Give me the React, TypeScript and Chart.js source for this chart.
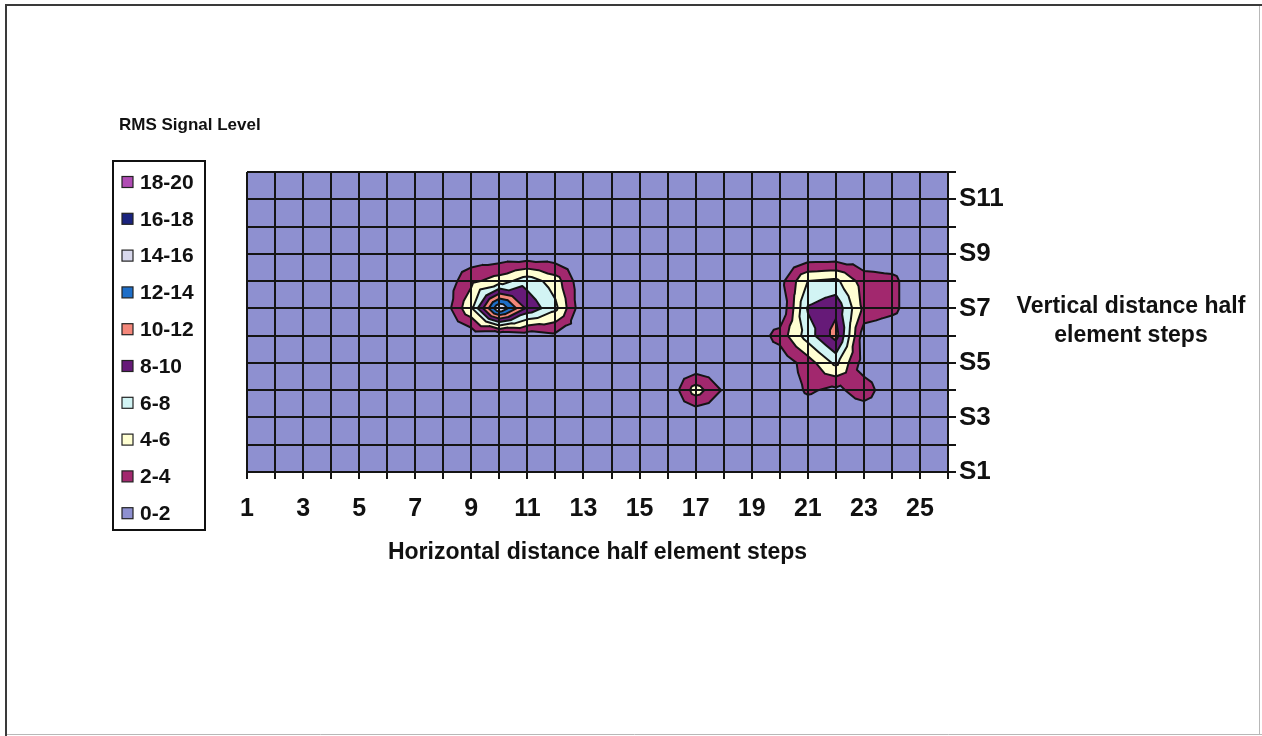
import React, { useEffect, useRef } from 'react';
import { Chart, registerables } from 'chart.js';

Chart.register(...registerables);

// Grid positions (half element steps)
const xValues = [1, 2, 3, 4, 5, 6, 7, 8, 9, 10, 11, 12, 13, 14, 15, 16, 17, 18, 19, 20, 21, 22, 23, 24, 25, 26];
const yValues = [1, 2, 3, 4, 5, 6, 7, 8, 9, 10, 11, 12];
const xTickLabels = ['1', '', '3', '', '5', '', '7', '', '9', '', '11', '', '13', '', '15', '', '17', '', '19', '', '21', '', '23', '', '25', ''];
const yTickLabels = ['S1', '', 'S3', '', 'S5', '', 'S7', '', 'S9', '', 'S11', ''];

// Contour bands
const bandLabels = ['0-2', '2-4', '4-6', '6-8', '8-10', '10-12', '12-14', '14-16', '16-18', '18-20'];
const bandLevels = [0, 2, 4, 6, 8, 10, 12, 14, 16, 18];
const bandColors = ['#8E90D0', '#A2286E', '#FFFFD2', '#D2F4F4', '#661A78', '#F4877A', '#1E6EC8', '#D8D8EC', '#1A237E', '#B04CB4'];

// RMS signal level per series (S1..S12), one value per horizontal step 1..26
const s1 = [0.5, 0.5, 0.5, 0.5, 0.5, 0.5, 0.5, 0.5, 0.5, 0.5, 0.5, 0.5, 0.5, 0.5, 0.5, 0.5, 0.5, 0.5, 0.5, 0.5, 0.5, 0.5, 0.5, 0.5, 0.5, 0.5];
const s2 = [0.5, 0.5, 0.5, 0.5, 0.5, 0.5, 0.5, 0.5, 0.5, 0.5, 0.5, 0.5, 0.5, 0.5, 0.5, 0.5, 0.5, 0.5, 0.5, 0.5, 0.5, 0.5, 0.5, 0.5, 0.5, 0.5];
const s3 = [0.5, 0.5, 0.5, 0.5, 0.5, 0.5, 0.5, 0.5, 0.5, 0.5, 0.5, 0.5, 0.5, 0.5, 0.5, 0.3, 0.0, 0.5, 0.5, 0.5, 0.5, 0.5, 0.5, 0.5, 0.5, 0.5];
const s4 = [0.5, 0.5, 0.5, 0.5, 0.5, 0.5, 0.5, 0.5, 0.5, 0.5, 0.5, 0.5, 0.5, 0.5, 0.5, 0.0, 5.0, 1.7, 0.5, 0.5, 2.3, 1.5, 3.0, 0.5, 0.5, 0.5];
const s5 = [0.5, 0.5, 0.5, 0.5, 0.5, 0.5, 0.5, 0.5, 0.5, 0.5, 0.5, 0.5, 0.5, 0.5, 0.5, 0.5, 0.0, 0.5, 0.5, 0.5, 3.0, 6.5, 1.0, 0.5, 0.5, 0.5];
const s6 = [0.5, 0.5, 0.5, 0.5, 0.5, 0.5, 0.5, 0.5, 0.5, 0.2, 0.8, 1.5, 0.5, 0.5, 0.5, 0.5, 0.5, 0.5, 0.5, 2.8, 7.0, 10.8, 0.8, 0.3, 0.5, 0.5];
const s7 = [0.5, 0.5, 0.5, 0.5, 0.5, 0.5, 0.5, 0.6, 5.7, 15.9, 9.5, 6.5, 0.3, 0.5, 0.5, 0.5, 0.5, 0.5, 0.5, 0.0, 8.2, 9.5, 3.5, 2.6, 0.3, 0.5];
const s8 = [0.5, 0.5, 0.5, 0.5, 0.5, 0.5, 0.5, 0.5, 3.5, 5.0, 7.2, 5.0, 0.3, 0.5, 0.5, 0.5, 0.5, 0.5, 0.5, 1.2, 6.0, 6.5, 3.0, 2.6, 0.3, 0.5];
const s9 = [0.5, 0.5, 0.5, 0.5, 0.5, 0.5, 0.5, 0.5, 0.5, 0.4, 0.2, 0.4, 0.5, 0.5, 0.5, 0.5, 0.5, 0.5, 0.5, 0.5, 0.2, 0.2, 0.3, 0.3, 0.5, 0.5];
const s10 = [0.5, 0.5, 0.5, 0.5, 0.5, 0.5, 0.5, 0.5, 0.5, 0.5, 0.5, 0.5, 0.5, 0.5, 0.5, 0.5, 0.5, 0.5, 0.5, 0.5, 0.5, 0.5, 0.5, 0.5, 0.5, 0.5];
const s11 = [0.5, 0.5, 0.5, 0.5, 0.5, 0.5, 0.5, 0.5, 0.5, 0.5, 0.5, 0.5, 0.5, 0.5, 0.5, 0.5, 0.5, 0.5, 0.5, 0.5, 0.5, 0.5, 0.5, 0.5, 0.5, 0.5];
const s12 = [0.5, 0.5, 0.5, 0.5, 0.5, 0.5, 0.5, 0.5, 0.5, 0.5, 0.5, 0.5, 0.5, 0.5, 0.5, 0.5, 0.5, 0.5, 0.5, 0.5, 0.5, 0.5, 0.5, 0.5, 0.5, 0.5];

const legendTitle = 'RMS Signal Level';
const xTitle = 'Horizontal distance half element steps';
const yTitleLines = ['Vertical distance half', 'element steps'];

const FONT = '"Liberation Sans", Arial, Helvetica, sans-serif';

type P = [number, number, number];

function clipAbove(poly: P[], L: number): P[] {
  const out: P[] = [];
  for (let k = 0; k < poly.length; k++) {
    const a = poly[k];
    const b = poly[(k + 1) % poly.length];
    const ain = a[2] >= L;
    const bin = b[2] >= L;
    if (ain) out.push(a);
    if (ain !== bin) {
      const t = (L - a[2]) / (b[2] - a[2]);
      out.push([a[0] + t * (b[0] - a[0]), a[1] + t * (b[1] - a[1]), L]);
    }
  }
  return out;
}

export default function App() {
  const ref = useRef<HTMLCanvasElement>(null);

  useEffect(() => {
    const canvas = ref.current;
    if (!canvas) return;
    const grid = [s1, s2, s3, s4, s5, s6, s7, s8, s9, s10, s11, s12];

    const contourPlugin = {
      id: 'contour',
      beforeDraw(chart: any) {
        const { ctx, chartArea: a, scales } = chart;
        const xs = scales.x;
        const ys = scales.y;
        ctx.save();
        ctx.fillStyle = '#ffffff';
        ctx.fillRect(0, 0, chart.width, chart.height);
        ctx.beginPath();
        ctx.rect(a.left, a.top, a.right - a.left, a.bottom - a.top);
        ctx.clip();
        ctx.fillStyle = bandColors[0];
        ctx.fillRect(a.left, a.top, a.right - a.left, a.bottom - a.top);

        const tris: P[][] = [];
        for (let j = 0; j < yValues.length - 1; j++) {
          for (let i = 0; i < xValues.length - 1; i++) {
            const x0 = xs.getPixelForValue(xValues[i]);
            const x1 = xs.getPixelForValue(xValues[i + 1]);
            const y0 = ys.getPixelForValue(yValues[j]);
            const y1 = ys.getPixelForValue(yValues[j + 1]);
            const v00 = grid[j][i];
            const v10 = grid[j][i + 1];
            const v11 = grid[j + 1][i + 1];
            const v01 = grid[j + 1][i];
            const c: P = [(x0 + x1) / 2, (y0 + y1) / 2, (v00 + v10 + v11 + v01) / 4];
            const p00: P = [x0, y0, v00];
            const p10: P = [x1, y0, v10];
            const p11: P = [x1, y1, v11];
            const p01: P = [x0, y1, v01];
            tris.push([c, p00, p10], [c, p10, p11], [c, p11, p01], [c, p01, p00]);
          }
        }

        for (let k = 1; k < bandLevels.length; k++) {
          const L = bandLevels[k];
          ctx.beginPath();
          let any = false;
          for (const t of tris) {
            const poly = clipAbove(t, L);
            if (poly.length < 3) continue;
            any = true;
            ctx.moveTo(poly[0][0], poly[0][1]);
            for (let m = 1; m < poly.length; m++) ctx.lineTo(poly[m][0], poly[m][1]);
            ctx.closePath();
          }
          if (any) {
            ctx.fillStyle = bandColors[k];
            ctx.fill();
          }
        }

        ctx.beginPath();
        for (let k = 1; k < bandLevels.length; k++) {
          const L = bandLevels[k];
          for (const t of tris) {
            const pts: number[][] = [];
            for (let m = 0; m < 3; m++) {
              const p = t[m];
              const q = t[(m + 1) % 3];
              if ((p[2] >= L) !== (q[2] >= L)) {
                const u = (L - p[2]) / (q[2] - p[2]);
                pts.push([p[0] + u * (q[0] - p[0]), p[1] + u * (q[1] - p[1])]);
              }
            }
            if (pts.length === 2) {
              ctx.moveTo(pts[0][0], pts[0][1]);
              ctx.lineTo(pts[1][0], pts[1][1]);
            }
          }
        }
        ctx.strokeStyle = '#141414';
        ctx.lineWidth = 2;
        ctx.lineJoin = 'round';
        ctx.lineCap = 'round';
        ctx.stroke();
        ctx.restore();
      },
      afterDraw(chart: any) {
        const { ctx, chartArea: a } = chart;
        ctx.save();
        // outer frame
        ctx.strokeStyle = '#3a3a3a';
        ctx.lineWidth = 2;
        ctx.beginPath();
        ctx.moveTo(6, 736);
        ctx.lineTo(6, 5);
        ctx.lineTo(1262, 5);
        ctx.stroke();
        ctx.strokeStyle = '#b8b8b8';
        ctx.lineWidth = 1;
        ctx.beginPath();
        ctx.moveTo(7, 734.5);
        ctx.lineTo(1262, 734.5);
        ctx.moveTo(1259.5, 6);
        ctx.lineTo(1259.5, 734);
        ctx.stroke();

        ctx.fillStyle = '#111';
        // axis titles
        ctx.font = `bold 23px ${FONT}`;
        ctx.textAlign = 'center';
        ctx.textBaseline = 'middle';
        ctx.fillText(xTitle, (a.left + a.right) / 2, 553);
        ctx.fillText(yTitleLines[0], 1131, 307);
        ctx.fillText(yTitleLines[1], 1131, 336);

        // legend
        ctx.textAlign = 'left';
        ctx.font = `bold 17px ${FONT}`;
        ctx.fillText(legendTitle, 119, 125);
        ctx.strokeStyle = '#111';
        ctx.lineWidth = 2;
        ctx.strokeRect(113, 161, 92, 369);
        ctx.font = `bold 21px ${FONT}`;
        const ds = chart.data.datasets;
        for (let k = 0; k < ds.length; k++) {
          const d = ds[ds.length - 1 - k];
          const cy = 182 + k * 36.8;
          ctx.fillStyle = d.backgroundColor;
          ctx.fillRect(122, cy - 5.5, 11, 11);
          ctx.strokeStyle = '#222';
          ctx.lineWidth = 1.2;
          ctx.strokeRect(122, cy - 5.5, 11, 11);
          ctx.fillStyle = '#111';
          ctx.fillText(d.label, 140, cy + 1);
        }
        ctx.restore();
      },
    };

    const chart = new Chart(canvas, {
      type: 'scatter',
      data: {
        datasets: bandLabels.map((label, k) => ({
          label,
          data: [],
          backgroundColor: bandColors[k],
          borderColor: '#222',
        })),
      },
      options: {
        animation: false,
        responsive: false,
        maintainAspectRatio: false,
        layout: { padding: { left: 247, top: 172, right: 0, bottom: 0 } },
        plugins: {
          legend: { display: false },
          tooltip: { enabled: false },
          title: { display: false },
        },
        scales: {
          x: {
            type: 'linear',
            min: xValues[0],
            max: xValues[xValues.length - 1],
            afterBuildTicks: (s: any) => {
              s.ticks = xValues.map((v) => ({ value: v }));
            },
            afterFit: (s: any) => {
              s.height = 264;
            },
            ticks: {
              autoSkip: false,
              maxRotation: 0,
              padding: 15,
              color: '#111',
              font: { family: FONT, size: 25, weight: 'bold' },
              callback: (_v: any, i: number) => xTickLabels[i],
            },
            grid: { color: '#141414', lineWidth: 2, tickLength: 7 },
            border: { color: '#141414', width: 2 },
          },
          y: {
            type: 'linear',
            position: 'right',
            min: yValues[0],
            max: yValues[yValues.length - 1],
            afterBuildTicks: (s: any) => {
              s.ticks = yValues.map((v) => ({ value: v }));
            },
            afterFit: (s: any) => {
              s.width = 314;
            },
            ticks: {
              autoSkip: false,
              padding: 3,
              color: '#111',
              font: { family: FONT, size: 26, weight: 'bold' },
              callback: (_v: any, i: number) => yTickLabels[i],
            },
            grid: { color: '#141414', lineWidth: 2, tickLength: 8 },
            border: { color: '#141414', width: 2 },
          },
        },
      },
      plugins: [contourPlugin],
    } as any);

    return () => chart.destroy();
  }, []);

  return (
    <div style={{ position: 'fixed', left: 0, top: 0, width: 1262, height: 736, background: '#fff' }}>
      <canvas ref={ref} width={1262} height={736} style={{ display: 'block' }} />
    </div>
  );
}
